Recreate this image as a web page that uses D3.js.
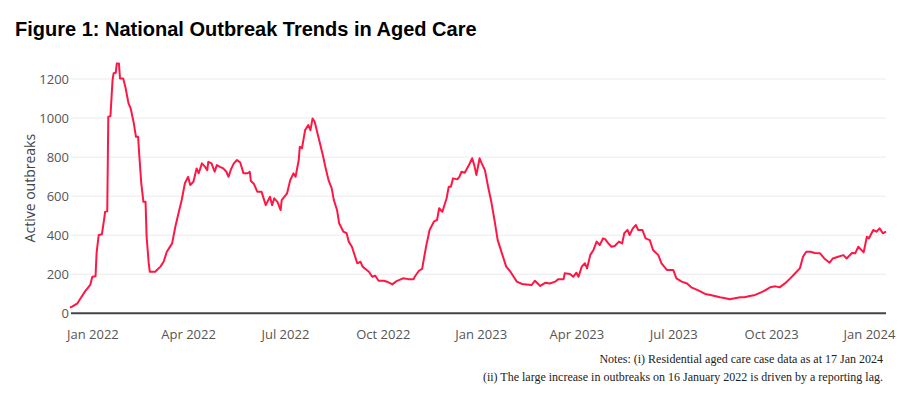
<!DOCTYPE html>
<html>
<head>
<meta charset="utf-8">
<script src="https://cdn.jsdelivr.net/npm/d3@7"></script>
<style>
  body { margin: 0; background: #fff; }
  svg { display: block; }
</style>
</head>
<body>
<div id="chart"></div>
<script>
var svgWidth = 911;
var svgHeight = 393;

// plot area
var plot = { left: 71, right: 886, zeroY: 313.3, topTickY: 79 };

// data
var dates = [
  "2021-12-11","2021-12-13","2021-12-18","2021-12-21","2021-12-25","2021-12-30",
  "2022-01-01","2022-01-04","2022-01-05","2022-01-07","2022-01-10","2022-01-12","2022-01-13","2022-01-15",
  "2022-01-16","2022-01-18","2022-01-20","2022-01-21","2022-01-23","2022-01-24","2022-01-26","2022-01-27","2022-01-30",
  "2022-02-01","2022-02-04","2022-02-06","2022-02-09","2022-02-11","2022-02-13","2022-02-14","2022-02-16","2022-02-18",
  "2022-02-20","2022-02-21","2022-02-23","2022-02-24","2022-03-01","2022-03-06","2022-03-09","2022-03-12","2022-03-17",
  "2022-03-20","2022-03-23","2022-03-26","2022-03-29","2022-04-01","2022-04-03","2022-04-06","2022-04-09","2022-04-11",
  "2022-04-14","2022-04-17","2022-04-19","2022-04-20","2022-04-23","2022-04-26","2022-04-28","2022-05-01","2022-05-04",
  "2022-05-07","2022-05-09","2022-05-11","2022-05-14","2022-05-17","2022-05-20","2022-05-23","2022-05-27","2022-05-29",
  "2022-05-30","2022-06-02","2022-06-05","2022-06-09","2022-06-13","2022-06-17","2022-06-19","2022-06-21","2022-06-24",
  "2022-06-27","2022-06-28","2022-07-03","2022-07-06","2022-07-09","2022-07-11","2022-07-14","2022-07-15","2022-07-17",
  "2022-07-20","2022-07-23","2022-07-25","2022-07-27","2022-07-29","2022-08-01","2022-08-03","2022-08-06","2022-08-08",
  "2022-08-11","2022-08-14","2022-08-16","2022-08-19","2022-08-21","2022-08-25","2022-08-28","2022-08-30","2022-09-02",
  "2022-09-05","2022-09-07","2022-09-10","2022-09-12","2022-09-15","2022-09-18","2022-09-21","2022-09-24","2022-09-27",
  "2022-10-02","2022-10-05","2022-10-10","2022-10-14","2022-10-20","2022-10-25","2022-10-30","2022-10-31","2022-11-04",
  "2022-11-07","2022-11-09","2022-11-11","2022-11-14","2022-11-18","2022-11-21","2022-11-23","2022-11-26","2022-11-30",
  "2022-12-02","2022-12-04","2022-12-06","2022-12-10","2022-12-12","2022-12-14","2022-12-17","2022-12-21","2022-12-24",
  "2022-12-26","2022-12-28","2022-12-31","2023-01-02","2023-01-05","2023-01-08","2023-01-11","2023-01-14","2023-01-17",
  "2023-01-21","2023-01-25","2023-01-29","2023-02-01","2023-02-04","2023-02-09","2023-02-13","2023-02-18","2023-02-21",
  "2023-02-26","2023-03-03","2023-03-07","2023-03-12","2023-03-15","2023-03-20","2023-03-21","2023-03-26","2023-03-29",
  "2023-04-01","2023-04-03","2023-04-06","2023-04-09","2023-04-11","2023-04-14","2023-04-17","2023-04-20","2023-04-23",
  "2023-04-26","2023-04-28","2023-05-01","2023-05-04","2023-05-07","2023-05-11","2023-05-14","2023-05-16","2023-05-19",
  "2023-05-21","2023-05-24","2023-05-27","2023-05-29","2023-06-02","2023-06-05","2023-06-09","2023-06-12","2023-06-17",
  "2023-06-20","2023-06-25","2023-07-01","2023-07-04","2023-07-09","2023-07-14","2023-07-18","2023-07-25","2023-07-31",
  "2023-08-05","2023-08-09","2023-08-14","2023-08-19","2023-08-23","2023-08-28","2023-09-02","2023-09-06","2023-09-11",
  "2023-09-16","2023-09-21","2023-09-25","2023-09-30","2023-10-05","2023-10-09","2023-10-14","2023-10-19","2023-10-23",
  "2023-10-28","2023-10-31","2023-11-03","2023-11-07","2023-11-11","2023-11-16","2023-11-20","2023-11-25","2023-11-28",
  "2023-12-03","2023-12-08","2023-12-11","2023-12-16","2023-12-19","2023-12-22","2023-12-27","2023-12-30","2024-01-01",
  "2024-01-05","2024-01-08","2024-01-11","2024-01-14","2024-01-17"
];

var outbreaks = [
  30, 34, 51, 77, 111, 145,
  187, 190, 310, 401, 405, 478, 520, 522,
  1007, 1010, 1195, 1229, 1232, 1280, 1280, 1203, 1203,
  1160, 1075, 1050, 973, 904, 904, 819, 666, 571,
  571, 392, 256, 213, 213, 239, 264, 315, 358,
  443, 512, 580, 666, 699, 657, 674, 742, 717,
  768, 750, 733, 776, 768, 725, 759, 750, 742,
  725, 699, 733, 768, 785, 772, 717, 717, 725,
  678, 662, 623, 623, 554, 597, 554, 589, 571,
  529, 580, 614, 682, 717, 699, 785, 853, 845,
  938, 964, 938, 998, 981, 913, 870, 802, 751,
  682, 640, 580, 529, 461, 418, 410, 367, 341,
  290, 256, 264, 239, 226, 213, 187, 192, 167,
  167, 162, 148, 165, 179, 175, 175, 187, 218,
  228, 290, 350, 427, 469, 478, 538, 520, 589,
  648, 648, 691, 686, 699, 725, 720, 759, 794,
  759, 708, 794, 768, 733, 648, 571, 478, 375,
  307, 239, 213, 187, 162, 150, 148, 145, 167,
  140, 157, 153, 162, 175, 175, 205, 201, 187,
  208, 187, 239, 256, 230, 298, 324, 367, 350,
  384, 380, 358, 341, 345, 367, 358, 410, 427,
  401, 435, 452, 427, 427, 384, 375, 324, 298,
  256, 222, 222, 179, 162, 153, 133, 116, 99,
  94, 89, 82, 77, 72, 77, 82, 82, 89,
  94, 106, 116, 133, 138, 133, 153, 179, 201,
  230, 290, 315, 315, 309, 307, 281, 259, 281,
  290, 298, 281, 309, 307, 341, 312, 392, 384,
  427, 418, 435, 410, 418
];

var yTicks = [0, 200, 400, 600, 800, 1000, 1200];
var xTicks = ["2022-01-01","2022-04-01","2022-07-01","2022-10-01","2023-01-01",
              "2023-04-01","2023-07-01","2023-10-01","2024-01-01"];

var titleText = "Figure 1: National Outbreak Trends in Aged Care";
var yTitle = "Active outbreaks";
var notes = [
  "Notes: (i) Residential aged care case data as at 17 Jan 2024",
  "(ii) The large increase in outbreaks on 16 January 2022 is driven by a reporting lag."
];

var parseDate = d3.timeParse("%Y-%m-%d");
var series = dates.map(function(d, i) {
  return { date: parseDate(d), value: outbreaks[i] };
});

var svg = d3.select("#chart")
  .append("svg")
  .attr("width", svgWidth)
  .attr("height", svgHeight);

svg.append("rect")
  .attr("width", svgWidth)
  .attr("height", svgHeight)
  .attr("fill", "#fff");

// scales
var xTimeScale = d3.scaleTime()
  .domain(d3.extent(series, d => d.date))
  .range([70, plot.right]);

var yLinearScale = d3.scaleLinear()
  .domain([0, 1200])
  .range([plot.zeroY, plot.topTickY]);

// gridlines
svg.append("g")
  .selectAll("line")
  .data(yTicks.filter(t => t > 0))
  .enter()
  .append("line")
  .attr("x1", plot.left)
  .attr("x2", plot.right)
  .attr("y1", d => yLinearScale(d))
  .attr("y2", d => yLinearScale(d))
  .attr("stroke", "#ebebeb")
  .attr("stroke-width", 1);

// y axis labels
var leftAxis = d3.axisLeft(yLinearScale)
  .tickValues(yTicks)
  .tickFormat(d3.format("d"))
  .tickSize(0)
  .tickPadding(2);

var yAxis = svg.append("g")
  .attr("transform", `translate(${plot.left}, 0)`)
  .call(leftAxis);

yAxis.select(".domain").remove();
yAxis.selectAll("text")
  .attr("fill", "#555")
  .style("font-family", "'Open Sans', sans-serif")
  .style("font-size", "13px");

// x axis labels
var bottomAxis = d3.axisBottom(xTimeScale)
  .tickValues(xTicks.map(parseDate))
  .tickFormat(d3.timeFormat("%b %Y"))
  .tickSize(0)
  .tickPadding(16);

var xAxis = svg.append("g")
  .attr("transform", `translate(0, ${plot.zeroY})`)
  .call(bottomAxis);

xAxis.select(".domain").remove();
xAxis.selectAll("text")
  .attr("fill", "#555")
  .style("font-family", "'Open Sans', sans-serif")
  .style("font-size", "13px");

// zero line
svg.append("line")
  .attr("x1", plot.left)
  .attr("x2", plot.right)
  .attr("y1", yLinearScale(0))
  .attr("y2", yLinearScale(0))
  .attr("stroke", "#444")
  .attr("stroke-width", 2);

// the series
var line = d3.line()
  .x(d => xTimeScale(d.date))
  .y(d => yLinearScale(d.value));

svg.append("path")
  .datum(series)
  .attr("d", line)
  .attr("fill", "none")
  .attr("stroke", "#ff1744")
  .attr("stroke-width", 2)
  .attr("stroke-linejoin", "round");

// y title
svg.append("text")
  .attr("transform", `translate(35, ${(yLinearScale(0) + yLinearScale(1200)) / 2 - 8}) rotate(-90)`)
  .attr("text-anchor", "middle")
  .attr("fill", "#444")
  .style("font-family", "'Open Sans', sans-serif")
  .style("font-size", "14px")
  .text(yTitle);

// title
svg.append("text")
  .attr("x", 15)
  .attr("y", 36)
  .attr("fill", "#000")
  .style("font-family", "'Liberation Sans', Arial, sans-serif")
  .style("font-weight", "bold")
  .style("font-size", "20px")
  .text(titleText);

// notes
svg.append("g")
  .selectAll("text")
  .data(notes)
  .enter()
  .append("text")
  .attr("x", 883)
  .attr("y", (d, i) => 363 + i * 18)
  .attr("text-anchor", "end")
  .attr("fill", "#222")
  .style("font-family", "'Liberation Serif', 'Times New Roman', serif")
  .style("font-size", "12px")
  .text(d => d);
</script>
</body>
</html>
